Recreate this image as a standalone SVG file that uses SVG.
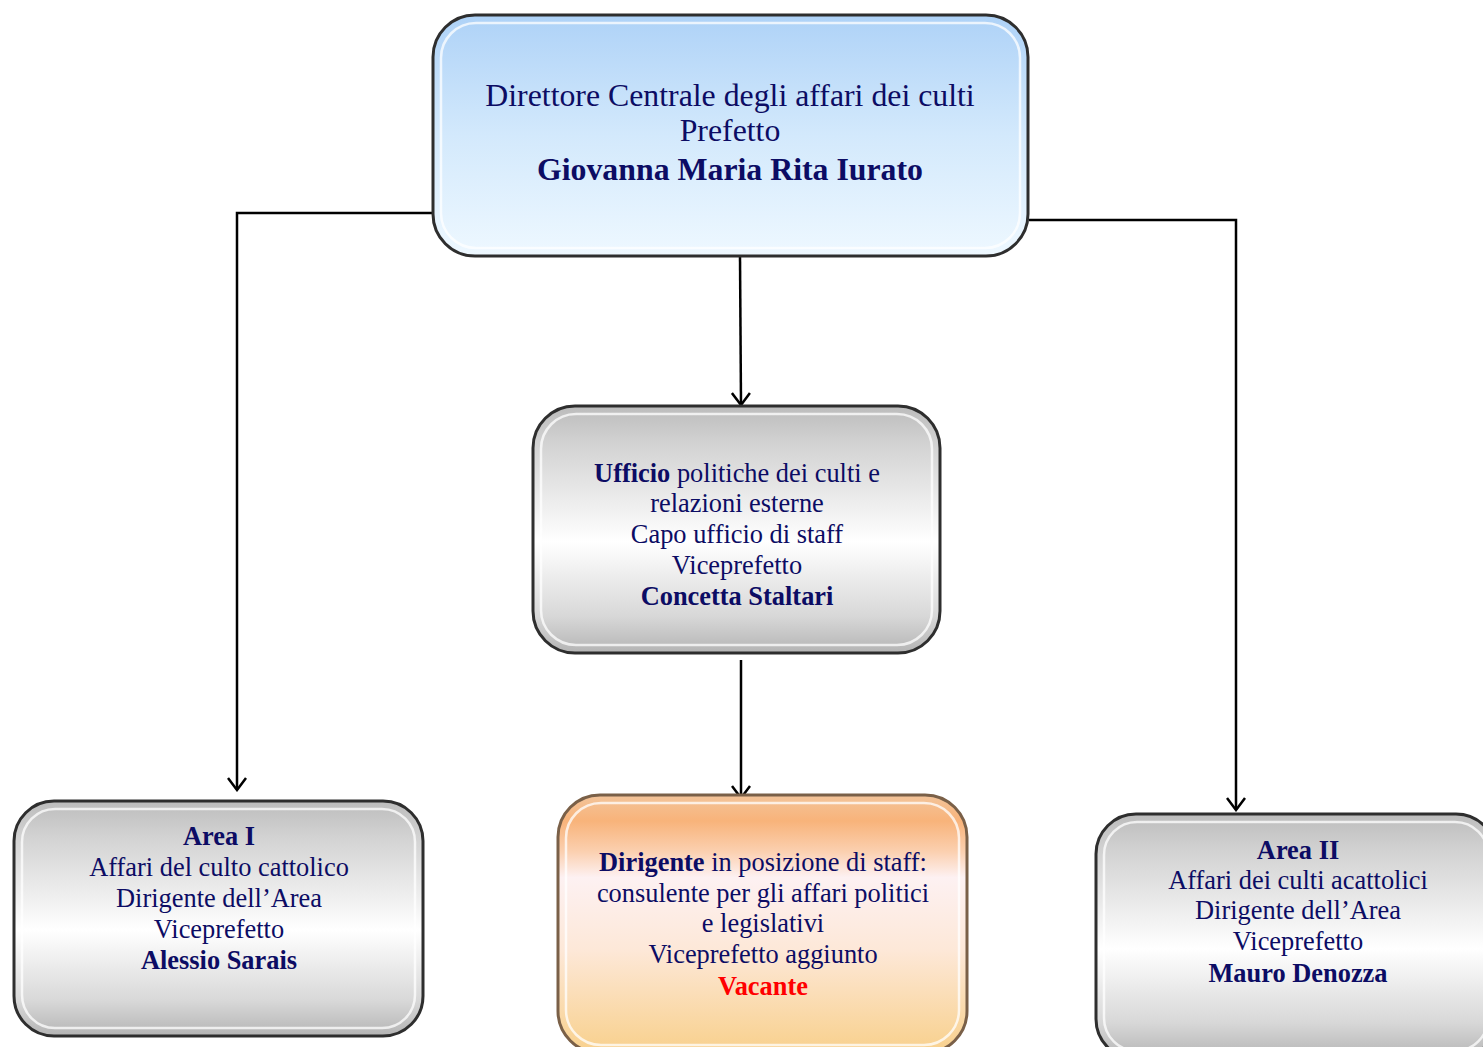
<svg xmlns="http://www.w3.org/2000/svg" width="1483" height="1047" viewBox="0 0 1483 1047">
<defs>
<linearGradient id="gBlue" x1="0" y1="0" x2="0" y2="1">
<stop offset="0" stop-color="#aed2f7"/>
<stop offset="0.5" stop-color="#d3e9fc"/>
<stop offset="1" stop-color="#eef8ff"/>
</linearGradient>
<linearGradient id="gGray" x1="0" y1="0" x2="0" y2="1">
<stop offset="0" stop-color="#bcbcbc"/>
<stop offset="0.15" stop-color="#d2d2d2"/>
<stop offset="0.55" stop-color="#ffffff"/>
<stop offset="0.85" stop-color="#d8d8d8"/>
<stop offset="1" stop-color="#b4b4b4"/>
</linearGradient>
<linearGradient id="gOrange" x1="0" y1="0" x2="0" y2="1">
<stop offset="0" stop-color="#f3c49a"/>
<stop offset="0.1" stop-color="#f8b37a"/>
<stop offset="0.22" stop-color="#fbd0b0"/>
<stop offset="0.32" stop-color="#fdf1f2"/>
<stop offset="0.6" stop-color="#fde8d8"/>
<stop offset="1" stop-color="#f8d08c"/>
</linearGradient>
<marker id="arr" viewBox="0 0 20 20" refX="18" refY="10" markerWidth="20" markerHeight="20" markerUnits="userSpaceOnUse" orient="auto">
<path d="M6,1 L18,10 L6,19" fill="none" stroke="#000" stroke-width="2.5"/>
</marker>
<style>
.box{stroke:#2e2e2e;stroke-width:3}
.rim{fill:none;stroke:#ffffff;stroke-opacity:0.75;stroke-width:2.5}
.t{font-family:"Liberation Serif","Times New Roman",serif;fill:#0c0c64;text-anchor:middle}
.s{font-size:26.4px}
.L{font-size:31.8px}
.b{font-weight:bold}
.red{fill:#ff0000;font-weight:bold}
.con{fill:none;stroke:#000;stroke-width:2.5}
</style>
</defs>
<g id="connectors">
<path class="con" d="M432,213 H237 V790" marker-end="url(#arr)"/>
<path class="con" d="M740,257 L741,405" marker-end="url(#arr)"/>
<path class="con" d="M1029,220 H1236 V810" marker-end="url(#arr)"/>
<path class="con" d="M741,660 V798" marker-end="url(#arr)"/>
</g>
<g id="node-direttore">
<rect class="box" x="433" y="15" width="595" height="241" rx="42" fill="url(#gBlue)"/>
<rect class="rim" x="441" y="23" width="579" height="225" rx="35"/>
<text class="t L" x="730" y="106">Direttore Centrale degli affari dei culti</text>
<text class="t L" x="730" y="141">Prefetto</text>
<text class="t L b" x="730" y="180">Giovanna Maria Rita Iurato</text>
</g>
<g id="node-ufficio">
<rect class="box" x="533" y="406" width="407" height="247" rx="42" fill="url(#gGray)"/>
<rect class="rim" x="541" y="414" width="391" height="231" rx="35"/>
<text class="t s" x="737" y="482"><tspan class="b">Ufficio</tspan> politiche dei culti e</text>
<text class="t s" x="737" y="512">relazioni esterne</text>
<text class="t s" x="737" y="543">Capo ufficio di staff</text>
<text class="t s" x="737" y="574">Viceprefetto</text>
<text class="t s b" x="737" y="605">Concetta Staltari</text>
</g>
<g id="node-area1">
<rect class="box" x="14" y="801" width="409" height="235" rx="40" fill="url(#gGray)"/>
<rect class="rim" x="22" y="809" width="393" height="219" rx="33"/>
<text class="t s b" x="219" y="845">Area I</text>
<text class="t s" x="219" y="876">Affari del culto cattolico</text>
<text class="t s" x="219" y="907">Dirigente dell’Area</text>
<text class="t s" x="219" y="938">Viceprefetto</text>
<text class="t s b" x="219" y="969">Alessio Sarais</text>
</g>
<g id="node-dirigente">
<rect class="box" x="558" y="795" width="409" height="258" rx="42" fill="url(#gOrange)" style="stroke:#7a6048"/>
<rect class="rim" x="566" y="803" width="393" height="242" rx="35"/>
<text class="t s" x="763" y="871"><tspan class="b">Dirigente</tspan> in posizione di staff:</text>
<text class="t s" x="763" y="902">consulente per gli affari politici</text>
<text class="t s" x="763" y="932">e legislativi</text>
<text class="t s" x="763" y="963">Viceprefetto aggiunto</text>
<text class="t s red" x="763" y="995">Vacante</text>
</g>
<g id="node-area2">
<rect class="box" x="1096" y="814" width="400" height="245" rx="40" fill="url(#gGray)"/>
<rect class="rim" x="1104" y="822" width="384" height="229" rx="33"/>
<text class="t s b" x="1298" y="859">Area II</text>
<text class="t s" x="1298" y="889">Affari dei culti acattolici</text>
<text class="t s" x="1298" y="919">Dirigente dell’Area</text>
<text class="t s" x="1298" y="950">Viceprefetto</text>
<text class="t s b" x="1298" y="982">Mauro Denozza</text>
</g>
</svg>
